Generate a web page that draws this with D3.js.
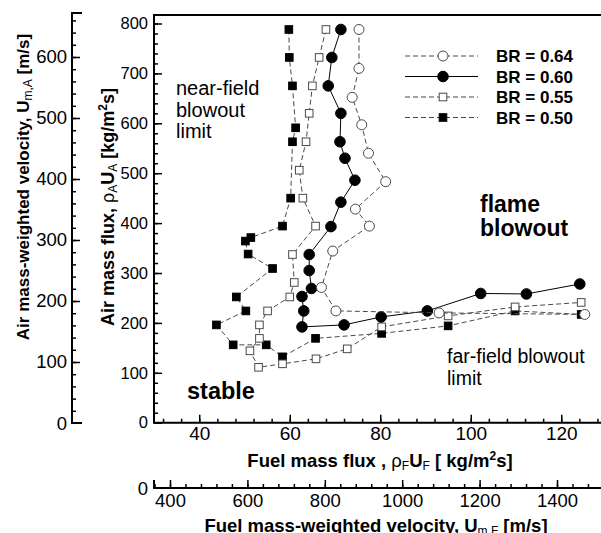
<!DOCTYPE html>
<html>
<head>
<meta charset="utf-8">
<script src="https://cdn.jsdelivr.net/npm/d3@7"></script>
<style>
  body { margin: 0; background: #fff; }
  svg { display: block; font-family: "Liberation Sans", Arial, sans-serif; }
</style>
</head>
<body>
<svg id="chart"></svg>
<script>
// data: [fuel mass flux, air mass flux]
const br064 = [[75.3,788],[75.3,710],[73.8,652],[75.9,597],[77.4,540],[81.2,483],[74.5,428],[77.6,394],
  [69.5,344],[67.0,271],[70.2,224],[93.0,220],[125.2,217]]
const br060 = [[71.3,788],[69.3,732],[68.5,675],[71.3,620],[71.1,563],[72.2,530],[74.4,486],[71.3,442],
  [69.1,393],[64.3,337],[64.3,305],[64.8,269],[62.7,253],[63.1,224],[62.7,192],[72.0,196],[80.2,212],
  [90.4,224],[102.2,259],[112.3,258],[124.1,278]]
const br055 = [[68.0,788],[66.5,732],[65.0,675],[64.3,620],[63.6,563],[62.1,506],[62.9,450],[65.7,394],
  [60.6,337],[61.0,281],[60.0,252],[55.1,224],[53.3,196],[53.3,169],[51.2,144],[53.1,111],[58.4,118],
  [65.8,128],[72.7,148],[80.3,192],[95.0,214],[109.8,232],[124.4,241]]
const br050 = [[59.8,788],[59.9,732],[60.6,675],[61.3,591],[60.6,563],[60.2,450],[58.4,394],[51.4,371],
  [50.2,364],[50.8,338],[56.2,309],[48.2,252],[50.3,224],[43.8,196],[47.5,156],[54.8,156],[58.4,132],
  [65.7,169],[80.3,179],[95.0,194],[109.8,224],[124.4,217]]

const seriesLabels = ['BR = 0.64', 'BR = 0.60', 'BR = 0.55', 'BR = 0.50']
const fuelTicks = [40, 60, 80, 100, 120]
const airTicks = [0, 100, 200, 300, 400, 500, 600, 700, 800]
const airVelTicks = [0, 100, 200, 300, 400, 500, 600]
const fuelVelTicks = [400, 600, 800, 1000, 1200, 1400]

const width = 601
const height = 533

const svg = d3.select('#chart').attr('width', width).attr('height', height)

/// Scales ///
const x = d3.scaleLinear().domain([30, 130]).range([154, 606.5])
const y = d3.scaleLinear().domain([0, 800]).range([422.7, 23.5])
const yVel = d3.scaleLinear().domain([0, 600]).range([423, 57])
const xVel = d3.scaleLinear().domain([400, 1400]).range([170, 557])

const black = '#000'
const grey = '#4a4a4a'

/// Axes ///
// main left axis, ticks pointing into the plot
svg.append('g')
  .attr('transform', `translate(${x(30)},0)`)
  .call(d3.axisLeft(y).tickValues(d3.range(0, 820, 20)).tickSize(-4).tickFormat(''))
  .call(g => g.select('.domain').remove())
svg.append('g')
  .attr('transform', `translate(${x(30)},0)`)
  .call(d3.axisLeft(y).tickValues(airTicks).tickSize(-8).tickPadding(6))
  .call(g => g.select('.domain').remove())
  .call(g => g.selectAll('text').attr('font-size', 16.5).attr('fill', black))

// main bottom axis
svg.append('g')
  .attr('transform', `translate(0,${y(0)})`)
  .call(d3.axisBottom(x).tickValues(d3.range(32, 130, 4)).tickSize(-4).tickFormat(''))
  .call(g => g.select('.domain').remove())
svg.append('g')
  .attr('transform', `translate(0,${y(0)})`)
  .call(d3.axisBottom(x).tickValues(fuelTicks).tickSize(-8).tickPadding(4))
  .call(g => g.select('.domain').remove())
  .call(g => g.selectAll('text').attr('font-size', 19).attr('fill', black))

// frame lines of main plot
svg.append('path')
  .attr('d', `M${width},${y(817)}H${x(30)}V${y(0)}H${width}`)
  .attr('fill', 'none').attr('stroke', black).attr('stroke-width', 2)

// secondary left axis (air velocity)
const velTop = yVel(672)
svg.append('g')
  .attr('transform', 'translate(72,0)')
  .call(d3.axisLeft(yVel).tickValues(d3.range(20, 670, 20)).tickSize(-4).tickFormat(''))
  .call(g => g.select('.domain').remove())
svg.append('g')
  .attr('transform', 'translate(72,0)')
  .call(d3.axisLeft(yVel).tickValues(airVelTicks.slice(1)).tickSize(-8).tickPadding(5))
  .call(g => g.select('.domain').remove())
  .call(g => g.selectAll('text').attr('font-size', 18.5).attr('fill', black))
svg.append('path')
  .attr('d', `M82,${velTop}H72V${yVel(0)}H82`)
  .attr('fill', 'none').attr('stroke', black).attr('stroke-width', 2)
svg.append('text').attr('x', 67).attr('y', yVel(0) + 6.5)
  .attr('text-anchor', 'end').attr('font-size', 18.5).text(airVelTicks[0])

// secondary bottom axis (fuel velocity)
const velY = 488
svg.append('g')
  .attr('transform', `translate(0,${velY})`)
  .call(d3.axisBottom(xVel).tickValues(d3.range(360, 1520, 40)).tickSize(-4).tickFormat(''))
  .call(g => g.select('.domain').remove())
svg.append('g')
  .attr('transform', `translate(0,${velY})`)
  .call(d3.axisBottom(xVel).tickValues(fuelVelTicks).tickSize(-8).tickPadding(6).tickFormat(d3.format('d')))
  .call(g => g.select('.domain').remove())
  .call(g => g.selectAll('text').attr('font-size', 18.5).attr('fill', black))
svg.append('path')
  .attr('d', `M${x(30)},${velY - 8}V${velY}H${width}`)
  .attr('fill', 'none').attr('stroke', black).attr('stroke-width', 2)
svg.append('text').attr('x', 148).attr('y', velY + 6.5)
  .attr('text-anchor', 'end').attr('font-size', 18.5).text('0')

svg.selectAll('.tick line').attr('stroke', black).attr('stroke-width', 1.5)

/// Axis titles ///
const title = (g, parts) => {
  parts.forEach(p => {
    g.append('tspan')
      .attr('font-size', p.sub || p.sup ? 12 : null)
      .attr('font-weight', p.sub || p.rho ? 'normal' : null)
      .attr('baseline-shift', p.sub ? '-25%' : p.sup ? '55%' : null)
      .text(p.t)
  })
}
svg.append('text')
  .attr('x', 380).attr('y', 467).attr('text-anchor', 'middle')
  .attr('font-size', 18.5).attr('font-weight', 'bold')
  .call(g => title(g, [{t: 'Fuel mass flux , '}, {t: 'ρ', rho: true}, {t: 'F', sub: true}, {t: 'U'}, {t: 'F', sub: true},
    {t: ' [ kg/m'}, {t: '2', sup: true}, {t: 's]'}]))
svg.append('text')
  .attr('x', 376).attr('y', 532).attr('text-anchor', 'middle')
  .attr('font-size', 18.5).attr('font-weight', 'bold')
  .call(g => title(g, [{t: 'Fuel mass-weighted velocity, U'}, {t: 'm,F', sub: true}, {t: ' [m/s]'}]))
svg.append('text')
  .attr('transform', 'translate(114,207) rotate(-90)').attr('text-anchor', 'middle')
  .attr('font-size', 18).attr('font-weight', 'bold')
  .call(g => title(g, [{t: 'Air mass flux, '}, {t: 'ρ', rho: true}, {t: 'A', sub: true}, {t: 'U'}, {t: 'A', sub: true},
    {t: ' [kg/m'}, {t: '2', sup: true}, {t: 's]'}]))
svg.append('text')
  .attr('transform', 'translate(29,187) rotate(-90)').attr('text-anchor', 'middle')
  .attr('font-size', 17).attr('font-weight', 'bold')
  .call(g => title(g, [{t: 'Air mass-weighted velocity, U'}, {t: 'm,A', sub: true}, {t: ' [m/s]'}]))

/// Annotations ///
const lines = (txt, px, py, size, weight, lh) => {
  const t = svg.append('text').attr('x', px).attr('y', py)
    .attr('font-size', size).attr('font-weight', weight)
  txt.forEach((s, i) => t.append('tspan').attr('x', px).attr('dy', i ? lh : 0).text(s))
}
lines(['near-field', 'blowout', 'limit'], 176, 95, 20, 'normal', 21.5)
lines(['flame', 'blowout'], 480, 212, 23, 'bold', 23.5)
lines(['stable'], 187, 399, 23.5, 'bold', 0)
lines(['far-field blowout', 'limit'], 447, 363, 19.5, 'normal', 21.5)

/// Series ///
const series = [
  { data: br064, shape: 'circle', fill: '#fff', stroke: grey, dash: '5 3', lineColour: grey },
  { data: br060, shape: 'circle', fill: black, stroke: black, dash: null, lineColour: black },
  { data: br055, shape: 'square', fill: '#fff', stroke: grey, dash: '5 3', lineColour: grey },
  { data: br050, shape: 'square', fill: black, stroke: black, dash: '5 3', lineColour: grey }
]
const line = d3.line().x(d => x(d[0])).y(d => y(d[1]))

const drawMarker = (g, s, cx, cy) => {
  if (s.shape === 'circle') {
    g.append('circle').attr('cx', cx).attr('cy', cy).attr('r', s.fill === black ? 5.3 : 5)
      .attr('fill', s.fill).attr('stroke', s.stroke).attr('stroke-width', 1)
  } else {
    g.append('rect').attr('x', cx - 3.8).attr('y', cy - 3.8).attr('width', 7.6).attr('height', 7.6)
      .attr('fill', s.fill).attr('stroke', s.stroke).attr('stroke-width', 1)
  }
}

// draw from back to front like the original layering
;[3, 2, 1, 0].forEach(i => {
  const s = series[i]
  const g = svg.append('g')
  g.append('path').attr('d', line(s.data))
    .attr('fill', 'none').attr('stroke', s.lineColour).attr('stroke-width', 1)
    .attr('stroke-dasharray', s.dash)
  s.data.forEach(d => drawMarker(g, s, x(d[0]), y(d[1])))
})

/// Legend ///
const legend = svg.append('g')
series.forEach((s, i) => {
  const ly = 56 + i * 20.5
  legend.append('line').attr('x1', 405).attr('x2', 478).attr('y1', ly).attr('y2', ly)
    .attr('stroke', s.lineColour).attr('stroke-width', 1).attr('stroke-dasharray', s.dash)
  drawMarker(legend, s, 443, ly)
  legend.append('text').attr('x', 496).attr('y', ly + 6)
    .attr('font-size', 17).attr('font-weight', 'bold').text(seriesLabels[i])
})
</script>
</body>
</html>
